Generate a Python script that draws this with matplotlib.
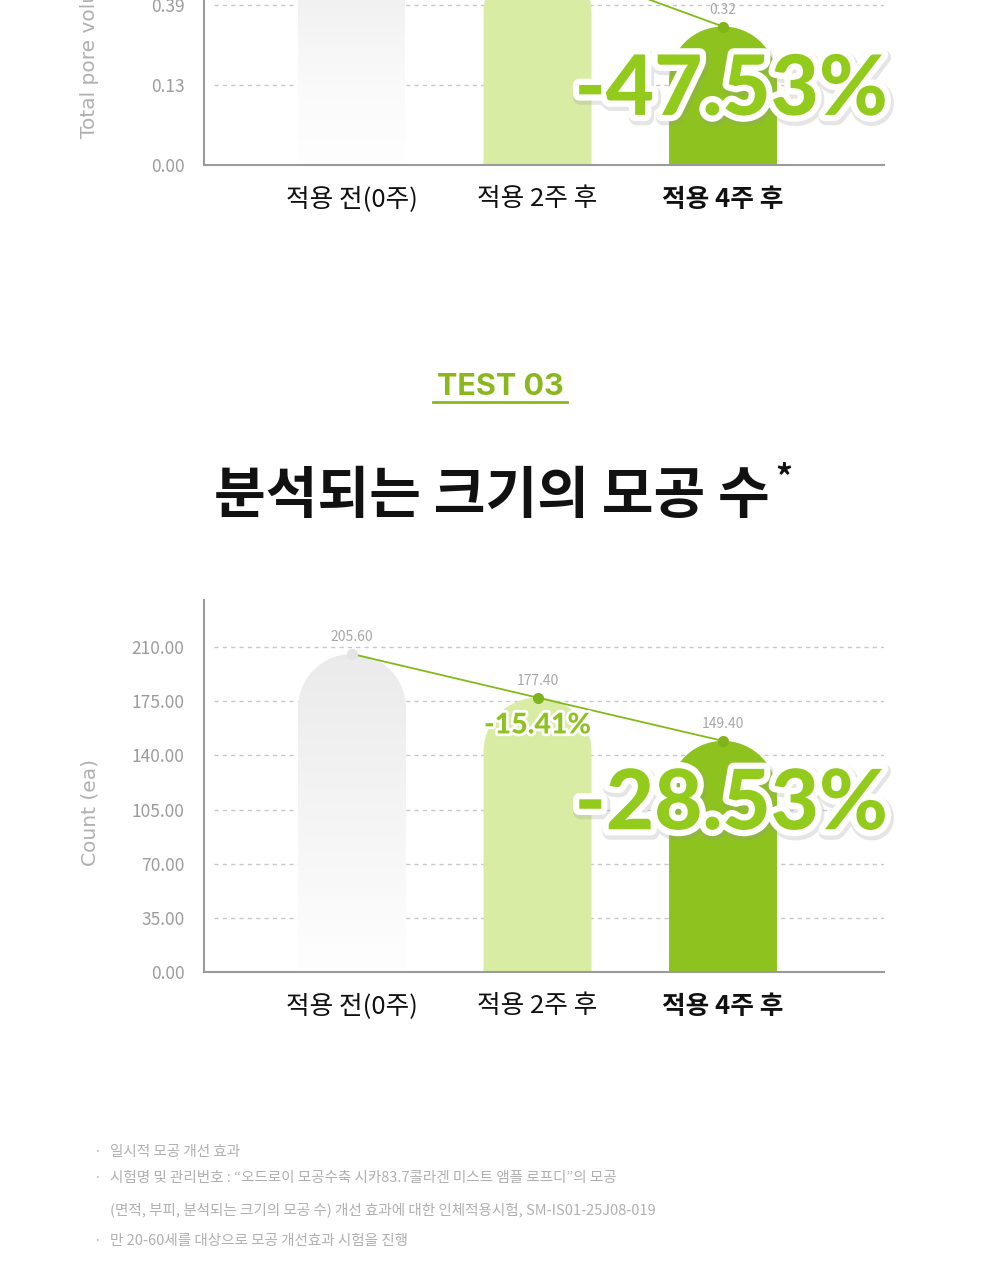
import numpy as np
import matplotlib
matplotlib.use('Agg')
import matplotlib.pyplot as plt
from matplotlib import patheffects as pe
from matplotlib.patches import Polygon
from matplotlib.lines import Line2D
from matplotlib.transforms import IdentityTransform

plt.rcParams['font.family'] = ['Noto Sans CJK KR', 'DejaVu Sans']

W, H = 1000, 1280

categories = ['적용 전(0주)', '적용 2주 후', '적용 4주 후']

# TEST 02 - only the bottom of this chart is in the picture
vol_values = [0.61, 0.54, 0.32]
vol_ticks = [0.00, 0.13, 0.39, 0.65]
vol_breaks = [0.00, 0.13, 0.39, 0.65, 0.91]   # the chart's uneven y scale
vol_change = ['', '', '-47.53%']

# TEST 03
count_values = [205.60, 177.40, 149.40]
count_ticks = [0.00, 35.00, 70.00, 105.00, 140.00, 175.00, 210.00]
count_change = ['', '-15.41%', '-28.53%']

notes = [
    ('·', '일시적 모공 개선 효과'),
    ('·', '시험명 및 관리번호 : “오드로이 모공수축 시카83.7콜라겐 미스트 앰플 로프디”의 모공'),
    ('', '(면적, 부피, 분석되는 크기의 모공 수) 개선 효과에 대한 인체적용시험, SM-IS01-25J08-019'),
    ('·', '만 20-60세를 대상으로 모공 개선효과 시험을 진행'),
]

GRAY_TXT = '#9c9c9c'
GREEN = '#8dc21f'
LIGHT_GREEN = '#d9eca3'
BIG_GREEN = '#93cb1c'
LINE_GREEN = '#84b91c'

fig = plt.figure(figsize=(W / 100, H / 100), dpi=100)


def px_axes(left, top, right, bottom):
    return fig.add_axes([left / W, 1 - bottom / H, (right - left) / W, (bottom - top) / H])


def rounded_bar(ax, x, v, width, color=None, gradient=None):
    x0, y0 = ax.transData.transform((x - width / 2, 0))
    x1, y1 = ax.transData.transform((x + width / 2, v))
    r = (x1 - x0) / 2
    t = np.linspace(0, np.pi, 60)
    arc = np.column_stack([x0 + r + r * np.cos(t), y1 - r + r * np.sin(t)])
    pts = np.vstack([[x1, y0], arc, [x0, y0]])
    if gradient is None:
        p = Polygon(pts, closed=True, transform=IdentityTransform(),
                    facecolor=color, edgecolor='none', zorder=2)
        ax.add_artist(p)
        p.set_clip_box(ax.bbox)
    else:
        p = Polygon(pts, closed=True, transform=IdentityTransform(),
                    facecolor='none', edgecolor='none')
        ax.add_artist(p)
        g = np.linspace(0, 1, 256).reshape(-1, 1)
        top_c = np.array(gradient[0])
        bot_c = np.array(gradient[1])
        img = top_c * (1 - g[..., None]) + bot_c * g[..., None]
        im = ax.imshow(img, extent=(x - width / 2, x + width / 2, 0, v),
                       aspect='auto', zorder=2, interpolation='bilinear')
        im.set_clip_path(p)


def style_axes(ax, ticks, fmt):
    for s in ['top', 'right']:
        ax.spines[s].set_visible(False)
    for s in ['left', 'bottom']:
        ax.spines[s].set_color('#9a9a9a')
        ax.spines[s].set_linewidth(1.5)
    ax.set_yticks(ticks)
    ax.set_yticklabels([fmt.format(t) for t in ticks])
    ax.tick_params(axis='y', length=0, pad=14, labelcolor=GRAY_TXT, labelsize=12.5)
    ax.tick_params(axis='x', length=0, pad=15, labelsize=18.5, labelcolor='#111111')
    ax.set_xticks(range(len(categories)))
    ax.set_xticklabels(categories)
    ax.get_xticklabels()[2].set_fontweight('bold')
    for lb in ax.get_yticklabels():
        lb.set_fontweight('light')


def draw_chart(ax, values, changes, fmt):
    for t in ax.get_yticks():
        ax.axhline(t, xmin=0.015, xmax=1, color='#c8c8c8', lw=1,
                   linestyle=(0, (3, 3)), zorder=0.5)
    x = np.arange(len(values))
    bw = 0.582
    rounded_bar(ax, x[0], values[0], bw, gradient=((0.92, 0.92, 0.92), (0.997, 0.997, 0.997)))
    rounded_bar(ax, x[1], values[1], bw, color=LIGHT_GREEN)
    rounded_bar(ax, x[2], values[2], bw, color=GREEN)
    ax.plot(x, values, color=LINE_GREEN, lw=1.3, zorder=3)
    ax.plot(x[:1], values[:1], 'o', ms=7, color='#e4e4e4', zorder=4)
    ax.plot(x[1:], values[1:], 'o', ms=7, color='#7fb41a', zorder=4)
    for xi, v in zip(x, values):
        ax.annotate(fmt.format(v), (xi, v), xytext=(0, 7), textcoords='offset points',
                    ha='center', va='bottom', fontsize=10, color='#a8a8a8',
                    fontweight='light', zorder=5)
    if changes[1]:
        ax.annotate(changes[1], (x[1], values[1]), xytext=(0, -20), textcoords='offset points',
                    ha='center', va='center', fontsize=20.5, fontweight='black', color=GREEN,
                    zorder=5, family=['Lato', 'DejaVu Sans'],
                    path_effects=[pe.Stroke(linewidth=4, foreground='white'), pe.Normal()])
    if changes[2]:
        ax.annotate(changes[2], (x[2], values[2]), xytext=(6, -46), textcoords='offset points',
                    ha='center', va='center', fontsize=60, fontweight='black', color=BIG_GREEN,
                    zorder=6, annotation_clip=False, family=['Lato', 'DejaVu Sans'],
                    path_effects=[pe.Stroke(linewidth=11, foreground='#9a9a9a', alpha=0.25,
                                            offset=(1, -2)),
                                  pe.Stroke(linewidth=9, foreground='white'), pe.Normal()])


# ---- top chart (TEST 02, cut off) ----
ax1 = px_axes(204, -145, 884, 165)
idx = np.arange(len(vol_breaks))
ax1.set_yscale('function', functions=(lambda v: np.interp(v, vol_breaks, idx),
                                      lambda u: np.interp(u, idx, vol_breaks)))
ax1.set_xlim(-0.798, 2.868)
ax1.set_ylim(0, np.interp(3.875, idx, vol_breaks))
style_axes(ax1, vol_ticks, '{:.2f}')
draw_chart(ax1, vol_values, vol_change, '{:.2f}')
ax1.text(-0.168, 0.49, 'Total pore volume (mm³)', transform=ax1.transAxes, rotation=90,
         ha='center', va='center', fontsize=14.5, color='#b0b0b0', family='DejaVu Sans')

# ---- bottom chart (TEST 03) ----
ax2 = px_axes(204, 600, 884, 972)
ax2.set_xlim(-0.798, 2.868)
ax2.set_ylim(0, 240.5)
style_axes(ax2, count_ticks, '{:.2f}')
draw_chart(ax2, count_values, count_change, '{:.2f}')
ax2.text(-0.168, 0.43, 'Count (ea)', transform=ax2.transAxes, rotation=90,
         ha='center', va='center', fontsize=14.5, color='#b0b0b0', family='DejaVu Sans')

# ---- headings ----
fig.text(0.5, 1 - 387 / H, 'TEST 03', ha='center', va='center', fontsize=22,
         fontweight='bold', color='#8ab71e', family=['Inter', 'DejaVu Sans'])
fig.add_artist(Line2D([433 / W, 567 / W], [1 - 402 / H, 1 - 402 / H], color='#8ab71e', lw=2))
fig.text(492 / W, 1 - 497 / H, '분석되는 크기의 모공 수', ha='center', va='center',
         fontsize=40.5, fontweight='bold', color='#111111')
fig.text(775 / W, 1 - 478 / H, '*', ha='left', va='center', fontsize=24,
         fontweight='bold', color='#111111')

# ---- footnotes ----
ys = [1152, 1178, 1210, 1241]
for (b, line), y in zip(notes, ys):
    if b:
        fig.text(97 / W, 1 - y / H, b, ha='center', va='center', fontsize=10, color='#b8b8b8')
    fig.text(110 / W, 1 - y / H, line, ha='left', va='center', fontsize=10.5,
             color='#b0b0b0', fontweight='light')

fig.savefig('out.png', dpi=100, facecolor='white')
